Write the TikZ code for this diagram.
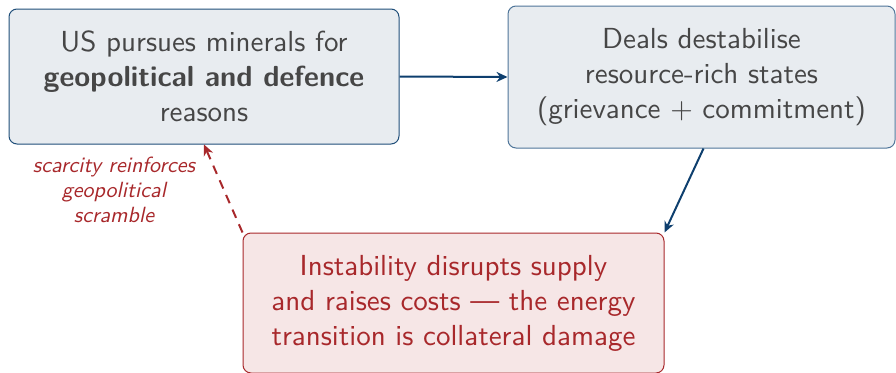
\documentclass[tikz,border=0pt]{standalone}
\usepackage{fontspec}
\setsansfont{lmsans10-regular.otf}[BoldFont=lmsans10-bold.otf, ItalicFont=lmsans10-oblique.otf, BoldItalicFont=lmsans10-boldoblique.otf]
\usetikzlibrary{arrows.meta}
\definecolor{bluefill}{HTML}{E8ECF0}
\definecolor{blueline}{HTML}{1F4E79}
\definecolor{bluelinelight}{HTML}{4F7599}
\definecolor{arrowblue}{HTML}{0E3F6E}
\definecolor{greytext}{HTML}{464646}
\definecolor{redfill}{HTML}{F6E6E6}
\definecolor{redline}{HTML}{A8282B}
\definecolor{redtext}{HTML}{A8282B}
\tikzset{
  box/.style={rounded corners=8pt, line width=1pt, align=center, inner sep=0pt,
    font=\sffamily\fontsize{29}{35}\selectfont},
  bluebox/.style={box, draw=blueline, fill=bluefill, text=greytext},
  redbox/.style={box, draw=redline, fill=redfill, text=redtext},
  flow/.style={draw=arrowblue, line width=2pt, -{Stealth[length=11pt,width=10pt]}},
  feedback/.style={draw=redline, line width=2pt, dash pattern=on 9pt off 7pt, -{Stealth[length=11pt,width=10pt]}},
  note/.style={align=center, text=redtext, font=\sffamily\itshape\fontsize{22}{25}\selectfont}
}
\begin{document}
\begin{tikzpicture}[x=1pt,y=-1pt]
\useasboundingbox (0,0) rectangle (896,372);
\node[bluebox, minimum width=390pt, minimum height=135pt] (A) at (204,76.5)
  {US pursues minerals for\\\textbf{geopolitical and defence}\\reasons};
\node[bluebox, draw=bluelinelight, minimum width=387pt, minimum height=142pt] (B) at (701.5,77)
  {Deals destabilise\\resource-rich states\\(grievance + commitment)};
\node[redbox, minimum width=421pt, minimum height=140pt] (C) at (453.5,303)
  {Instability disrupts supply\\and raises costs --- the energy\\transition is collateral damage};
\node[note] (N) at (114,190) {scarcity reinforces\\geopolitical\\scramble};
\draw[flow] (A.east) -- (B.west);
\draw[flow] ([xshift=2pt]B.south) -- (C.north east);
\draw[feedback] (C.north west) -- (A.south);
\end{tikzpicture}
\end{document}
